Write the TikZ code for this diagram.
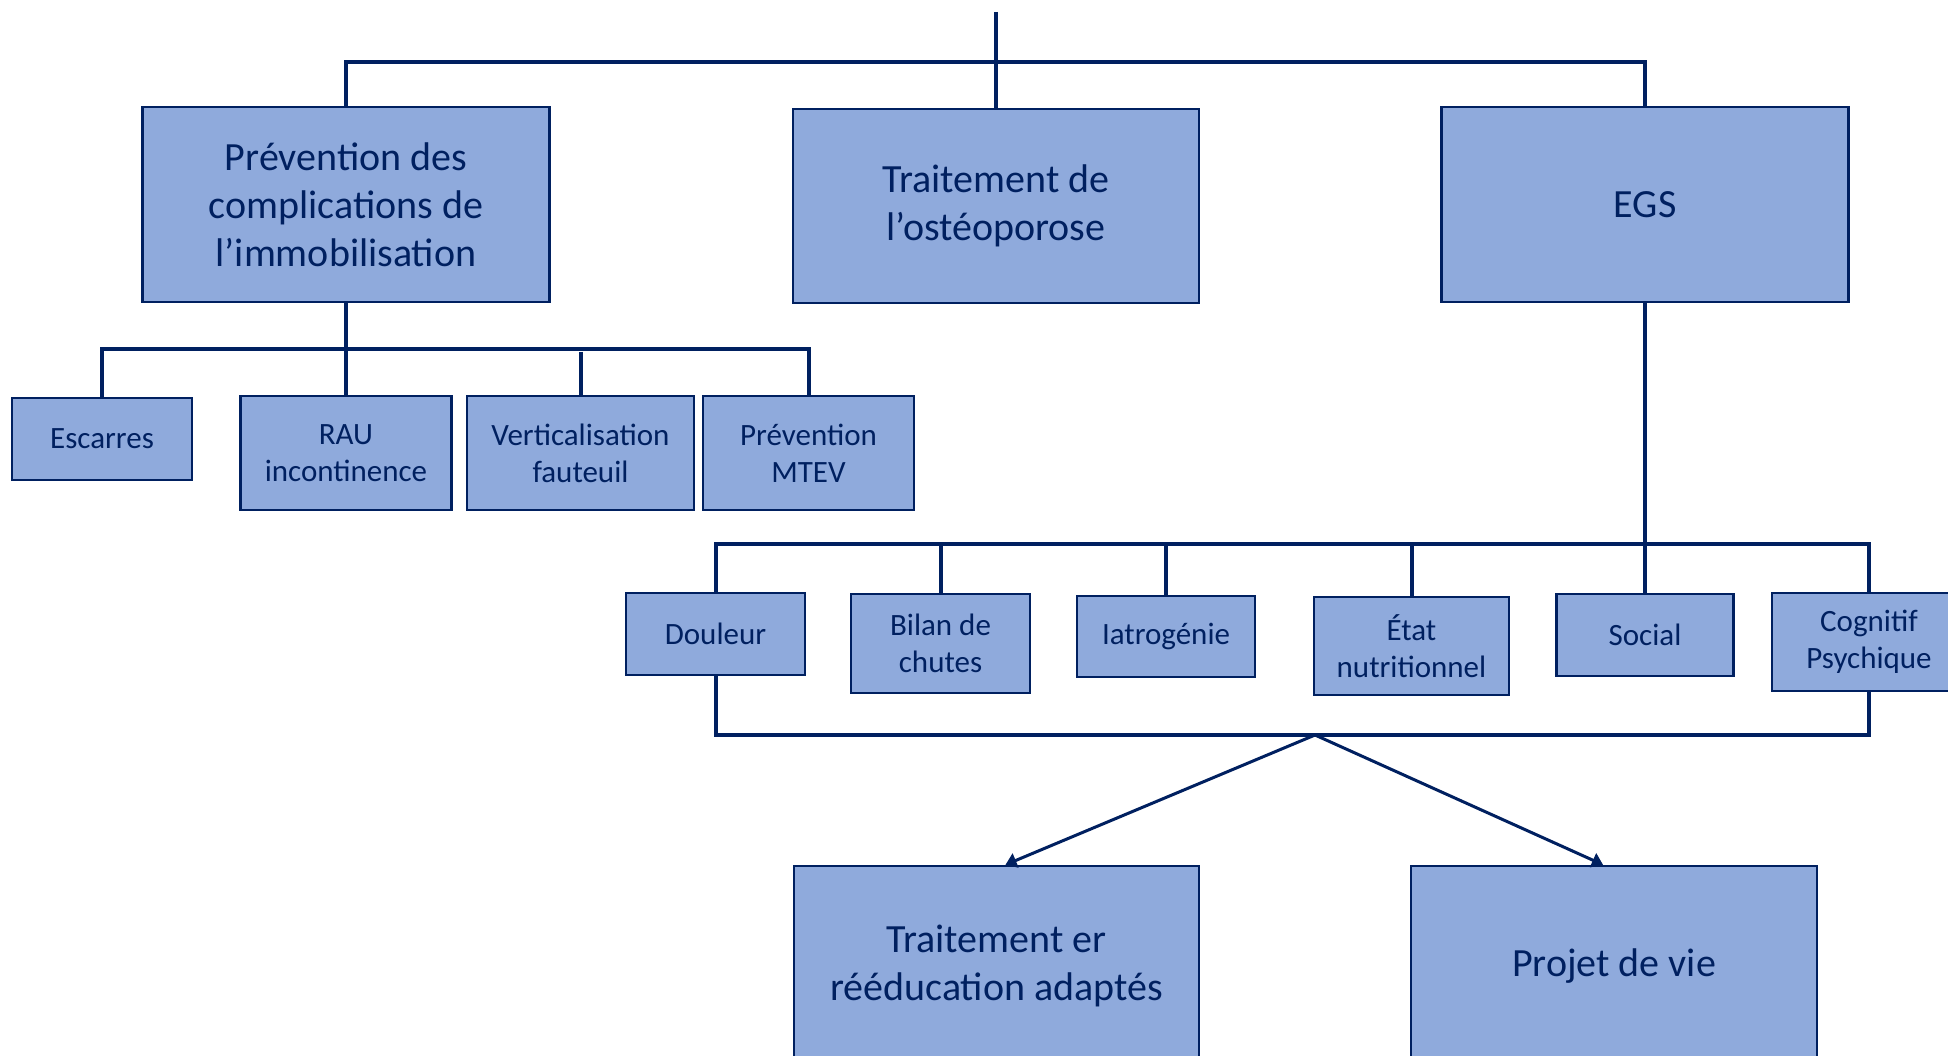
\documentclass[tikz,border=0pt]{standalone}
\usepackage{fontspec}
\setmainfont{Carlito}
\usetikzlibrary{arrows.meta}
\definecolor{navy}{HTML}{002060}
\definecolor{boxfill}{HTML}{8FAADC}
\tikzset{
  box/.style={draw=navy, line width=2.5pt, fill=boxfill, text=navy, align=center, inner sep=0pt, anchor=center},
  bigbox/.style={box, font=\fontsize{40}{48}\selectfont},
  smallbox/.style={box, font=\fontsize{31}{37}\selectfont},
  conn/.style={draw=navy, line width=4pt},
  arr/.style={draw=navy, line width=3pt, -{Triangle[width=15pt,length=11pt]}}
}
\begin{document}
\begin{tikzpicture}[x=1pt,y=-1pt]
\useasboundingbox (0,0) rectangle (1948,1056);
\clip (0,0) rectangle (1948,1056);
\fill[white] (0,0) rectangle (1948,1056);

% top level
\node[bigbox, minimum width=407, minimum height=195] (prev) at (346,204.5) {Prévention des\\complications de\\l’immobilisation};
\node[bigbox, minimum width=406, minimum height=194] (trait) at (996,206) {\raisebox{-3pt}{Traitement de}\\\raisebox{-3pt}{l’ostéoporose}};
\node[bigbox, minimum width=407, minimum height=195] (egs) at (1645,204.5) {EGS};

% prevention children
\node[smallbox, minimum width=180, minimum height=82] (esc) at (102,439) {Escarres};
\node[smallbox, minimum width=211, minimum height=114] (rau) at (346,453) {RAU\\incontinence};
\node[smallbox, minimum width=227, minimum height=114] (vert) at (580.5,453) {Verticalisation\\fauteuil};
\node[smallbox, minimum width=211, minimum height=114] (mtev) at (808.5,453) {Prévention\\MTEV};

% EGS children
\node[smallbox, minimum width=179, minimum height=82] (doul) at (715.5,634) {Douleur};
\node[smallbox, minimum width=179, minimum height=99] (bilan) at (940.5,643.5) {Bilan de\\chutes};
\node[smallbox, minimum width=178, minimum height=81] (iatro) at (1166,636.5) {Iatrogénie};
\node[smallbox, minimum width=195, minimum height=98] (etat) at (1411.5,646) {État\\nutritionnel};
\node[smallbox, minimum width=177, minimum height=82] (social) at (1645,635) {Social};
\node[smallbox, minimum width=194, minimum height=98] (cog) at (1869,642) {Cognitif\\Psychique};

% bottom
\node[bigbox, minimum width=405, minimum height=200] (trer) at (996.5,966) {Traitement er\\rééducation adaptés};
\node[bigbox, minimum width=406, minimum height=200] (projet) at (1614,966) {Projet de vie};

% connectors top
\coordinate (root) at (996,12);
\coordinate (top) at (996,62);
\draw[conn] (root) -- (trait.north);
\draw[conn] (prev.north) |- (top) -| (egs.north);

% prevention bracket
\coordinate (lb) at (346,349);
\draw[conn] (prev.south) -- (rau.north);
\draw[conn] (esc.north) |- (lb) -| (mtev.north);
\draw[conn] (vert.north |- 0,352) -- (vert.north);

% EGS bracket
\coordinate (eb) at (1645,544);
\draw[conn] (egs.south) -- (social.north);
\draw[conn] (doul.north) |- (eb) -| (cog.north);
\draw[conn] (bilan.north |- eb) -- (bilan.north);
\draw[conn] (iatro.north |- eb) -- (iatro.north);
\draw[conn] (etat.north |- eb) -- (etat.north);

% bottom bracket
\coordinate (apex) at (1315,735);
\draw[conn] (doul.south) |- (apex) -| (cog.south);
\draw[arr] (apex) -- ([xshift=9pt]trer.north);
\draw[arr] (apex) -- ([xshift=-11pt]projet.north);
\end{tikzpicture}
\end{document}
